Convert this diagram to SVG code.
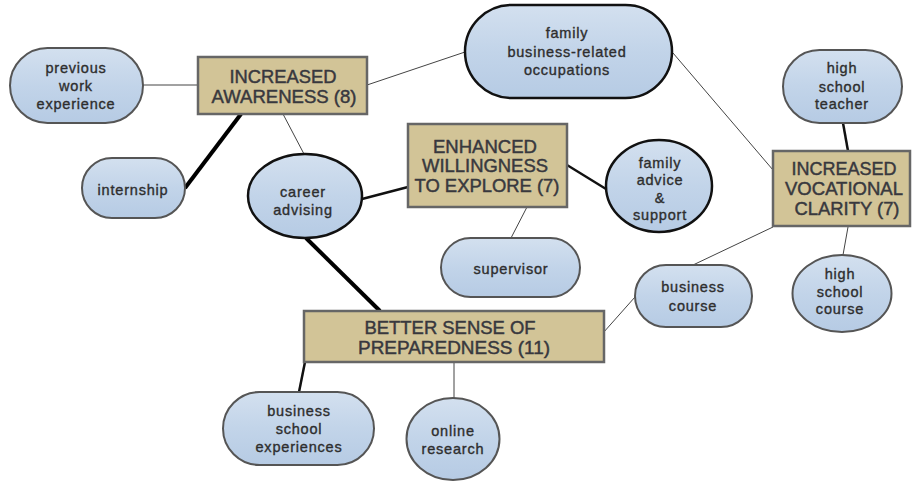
<svg xmlns="http://www.w3.org/2000/svg" width="912" height="481" viewBox="0 0 912 481">
<defs>
<linearGradient id="blue" x1="0" y1="0" x2="0" y2="1">
<stop offset="0" stop-color="#d3e0ef"/>
<stop offset="0.5" stop-color="#c2d4e9"/>
<stop offset="1" stop-color="#b6cbe4"/>
</linearGradient>
<style>
.o{fill:url(#blue);stroke:#555;stroke-width:2}
.ob{fill:url(#blue);stroke:#111;stroke-width:2.5}
.b{fill:#d2c497;stroke:#666;stroke-width:2.5}
.t{font-family:"Liberation Sans",Arial,sans-serif;font-size:14.5px;letter-spacing:0.8px;fill:#2e2e2e;stroke:#2e2e2e;stroke-width:0.35;text-anchor:middle}
.h{font-family:"Liberation Sans",Arial,sans-serif;font-size:18.5px;fill:#38383e;stroke:#38383e;stroke-width:0.45;text-anchor:middle}
.l1{stroke:#444;stroke-width:1;fill:none}
.l2{stroke:#111;stroke-width:2.5;fill:none}
.l3{stroke:#000;stroke-width:4;fill:none}
</style>
</defs>
<rect width="912" height="481" fill="#fff"/>
<g id="connectors">
<line class="l1" x1="143" y1="85" x2="198" y2="85"/>
<line class="l1" x1="367" y1="85" x2="465" y2="52"/>
<line class="l3" x1="241" y1="114" x2="185" y2="188"/>
<line class="l1" x1="283" y1="114" x2="304" y2="154"/>
<line class="l2" x1="362" y1="199" x2="408" y2="187"/>
<line class="l3" x1="306" y1="238" x2="380" y2="311"/>
<line class="l2" x1="567" y1="165" x2="606" y2="189"/>
<line class="l1" x1="527" y1="207" x2="511" y2="238"/>
<line class="l1" x1="673" y1="53" x2="773" y2="170"/>
<line class="l2" x1="843" y1="123" x2="848" y2="151"/>
<line class="l1" x1="773" y1="227" x2="693" y2="265"/>
<line class="l1" x1="848" y1="227" x2="843" y2="255"/>
<line class="l1" x1="603" y1="333" x2="635" y2="297"/>
<line class="l2" x1="305" y1="362" x2="299" y2="392"/>
<line class="l1" x1="454" y1="362" x2="454" y2="398"/>
</g>
<g id="previous-work-experience">
<rect class="o" x="10" y="48" width="133" height="75" rx="37.5"/>
<text class="t" x="76" y="73">previous</text>
<text class="t" x="76" y="91">work</text>
<text class="t" x="76" y="109">experience</text>
</g>
<g id="increased-awareness">
<rect class="b" x="198" y="57" width="169" height="57"/>
<text class="h" x="283" y="83" textLength="107" lengthAdjust="spacingAndGlyphs">INCREASED</text>
<text class="h" x="284" y="103" textLength="145" lengthAdjust="spacingAndGlyphs">AWARENESS (8)</text>
</g>
<g id="internship">
<rect class="o" x="82" y="158" width="103" height="60" rx="30"/>
<text class="t" x="133" y="195">internship</text>
</g>
<g id="career-advising">
<ellipse class="ob" cx="305" cy="196" rx="57" ry="42"/>
<text class="t" x="303" y="197">career</text>
<text class="t" x="303" y="215">advising</text>
</g>
<g id="enhanced-willingness">
<rect class="b" x="408" y="124" width="159" height="83"/>
<text class="h" x="485" y="153" textLength="104" lengthAdjust="spacingAndGlyphs">ENHANCED</text>
<text class="h" x="485" y="172" textLength="126" lengthAdjust="spacingAndGlyphs">WILLINGNESS</text>
<text class="h" x="487" y="192" textLength="145" lengthAdjust="spacingAndGlyphs">TO EXPLORE (7)</text>
</g>
<g id="family-business">
<rect class="ob" x="465" y="5" width="207" height="93" rx="46.5"/>
<text class="t" x="567" y="38">family</text>
<text class="t" x="567" y="57">business-related</text>
<text class="t" x="567" y="75">occupations</text>
</g>
<g id="family-advice">
<ellipse class="ob" cx="659" cy="186" rx="53" ry="46"/>
<text class="t" x="660" y="168">family</text>
<text class="t" x="660" y="185">advice</text>
<text class="t" x="660" y="203">&amp;</text>
<text class="t" x="660" y="220">support</text>
</g>
<g id="high-school-teacher">
<rect class="o" x="783" y="50" width="119" height="73" rx="36.5"/>
<text class="t" x="842" y="73">high</text>
<text class="t" x="842" y="92">school</text>
<text class="t" x="842" y="109">teacher</text>
</g>
<g id="increased-vocational-clarity">
<rect class="b" x="773" y="151" width="137" height="75"/>
<text class="h" x="844" y="175" textLength="105" lengthAdjust="spacingAndGlyphs">INCREASED</text>
<text class="h" x="844" y="195" textLength="118" lengthAdjust="spacingAndGlyphs">VOCATIONAL</text>
<text class="h" x="847" y="215" textLength="105" lengthAdjust="spacingAndGlyphs">CLARITY (7)</text>
</g>
<g id="supervisor">
<rect class="o" x="441" y="238" width="139" height="59" rx="29.5"/>
<text class="t" x="511" y="274">supervisor</text>
</g>
<g id="better-sense-of-preparedness">
<rect class="b" x="304" y="311" width="300" height="51"/>
<text class="h" x="450" y="334" textLength="171" lengthAdjust="spacingAndGlyphs">BETTER SENSE OF</text>
<text class="h" x="454" y="354" textLength="192" lengthAdjust="spacingAndGlyphs">PREPAREDNESS (11)</text>
</g>
<g id="business-school-experiences">
<rect class="o" x="223" y="392" width="151" height="73" rx="36.5"/>
<text class="t" x="299" y="416">business</text>
<text class="t" x="299" y="434">school</text>
<text class="t" x="299" y="452">experiences</text>
</g>
<g id="online-research">
<ellipse class="o" cx="453" cy="439" rx="46.5" ry="41"/>
<text class="t" x="453" y="436">online</text>
<text class="t" x="453" y="454">research</text>
</g>
<g id="business-course">
<rect class="o" x="635" y="265" width="117" height="62" rx="31"/>
<text class="t" x="693" y="292">business</text>
<text class="t" x="693" y="311">course</text>
</g>
<g id="high-school-course">
<ellipse class="o" cx="842" cy="293.5" rx="49.5" ry="38.5"/>
<text class="t" x="840" y="279">high</text>
<text class="t" x="840" y="297">school</text>
<text class="t" x="840" y="314">course</text>
</g>
</svg>
